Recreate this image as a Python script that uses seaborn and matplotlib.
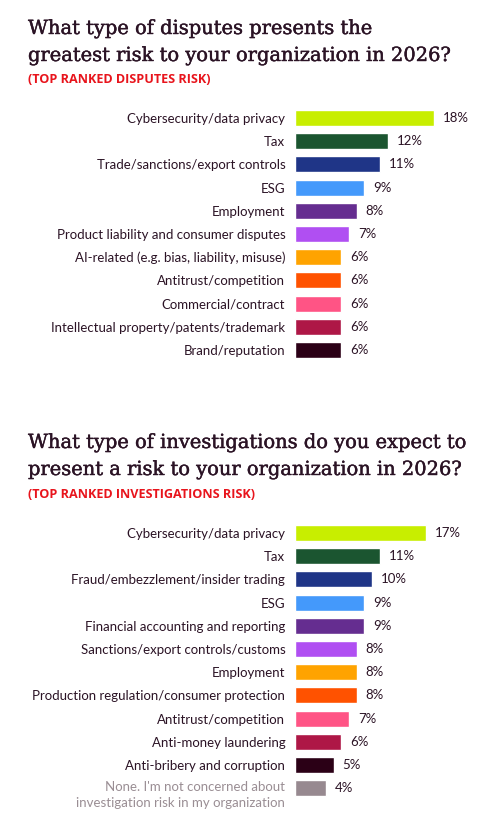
import matplotlib
matplotlib.use("Agg")
import matplotlib.pyplot as plt
import matplotlib.transforms as mtransforms
import matplotlib.patheffects as pe
import seaborn as sns
import pandas as pd

# data
disputes_cats = [
    "Cybersecurity/data privacy", "Tax", "Trade/sanctions/export controls", "ESG",
    "Employment", "Product liability and consumer disputes",
    "AI-related (e.g. bias, liability, misuse)", "Antitrust/competition",
    "Commercial/contract", "Intellectual property/patents/trademark", "Brand/reputation",
]
disputes_vals = [18, 12, 11, 9, 8, 7, 6, 6, 6, 6, 6]

invest_cats = [
    "Cybersecurity/data privacy", "Tax", "Fraud/embezzlement/insider trading", "ESG",
    "Financial accounting and reporting", "Sanctions/export controls/customs",
    "Employment", "Production regulation/consumer protection", "Antitrust/competition",
    "Anti-money laundering", "Anti-bribery and corruption",
    "None. I'm not concerned about\ninvestigation risk in my organization",
]
invest_vals = [17, 11, 10, 9, 9, 8, 8, 8, 7, 6, 5, 4]

palette = ["#c8ee00", "#1b5530", "#1f3587", "#4499fb", "#652d90", "#b04ff2",
           "#ffa300", "#ff5200", "#ff5485", "#ae1746", "#2b0016", "#978990"]

title_font = "DejaVu Serif"
text_font = "Lato"
dark = "#2b1325"
red = "#e8141c"

sns.set_theme(style="white")
plt.rcParams["font.family"] = [text_font, "DejaVu Sans"]

W, H = 491, 825
fig = plt.figure(figsize=(W / 100, H / 100), dpi=100)
fig.patch.set_facecolor("white")


def px_axes(left, top, width, height):
    return fig.add_axes([left / W, 1 - (top + height) / H, width / W, height / H])


def draw(ax, cats, vals, colors):
    df = pd.DataFrame({"cat": cats, "val": vals})
    sns.barplot(data=df, x="val", y="cat", hue="cat", palette=colors,
                legend=False, width=0.69, ax=ax, saturation=1)
    ax.set_xlim(0, 25)
    ax.set_ylim(len(cats) - 0.5, -0.5)
    for c in ax.containers:
        ax.bar_label(c, fmt="%d%%", padding=6.5, fontsize=9.5, color=dark,
                     family=text_font)
    for s in ax.spines.values():
        s.set_visible(False)
    ax.set_xticks([])
    ax.set_xlabel("")
    ax.set_ylabel("")
    ax.tick_params(axis="y", length=0, pad=7, labelsize=9.5, labelcolor=dark)


slot = 23.2
ax1 = px_axes(295, 118 - slot / 2, 193, slot * len(disputes_cats))
draw(ax1, disputes_cats, disputes_vals, palette[:len(disputes_cats)])

ax2 = px_axes(295, 533 - slot / 2, 193, slot * len(invest_cats))
draw(ax2, invest_cats, invest_vals, palette[:len(invest_cats)])

# last label of the investigations chart: gray, two lines, first line at bar
lab = ax2.get_yticklabels()[-1]
lab.set_color("#9a8e94")
lab.set_verticalalignment("top")
lab.set_linespacing(1.35)
lab.set_transform(lab.get_transform() +
                  mtransforms.ScaledTranslation(0, 7 / 100, fig.dpi_scale_trans))

# titles
tx = 28 / W
bold = [pe.withStroke(linewidth=0.3, foreground=dark)]
title_kw = dict(family=title_font, fontsize=14, color=dark, va="baseline",
                path_effects=bold)
sub_kw = dict(family="Open Sans", fontweight="bold", fontsize=9.1, color=red,
              va="baseline")

fig.text(tx, 1 - 34 / H, "What type of disputes presents the", **title_kw)
fig.text(tx, 1 - 61 / H, "greatest risk to your organization in 2026?", **title_kw)
fig.text(tx, 1 - 83 / H, "(TOP RANKED DISPUTES RISK)", **sub_kw)

fig.text(tx, 1 - 448 / H, "What type of investigations do you expect to", **title_kw)
fig.text(tx, 1 - 475 / H, "present a risk to your organization in 2026?", **title_kw)
fig.text(tx, 1 - 498 / H, "(TOP RANKED INVESTIGATIONS RISK)", **sub_kw)

fig.savefig("out.png", dpi=100, facecolor="white")
